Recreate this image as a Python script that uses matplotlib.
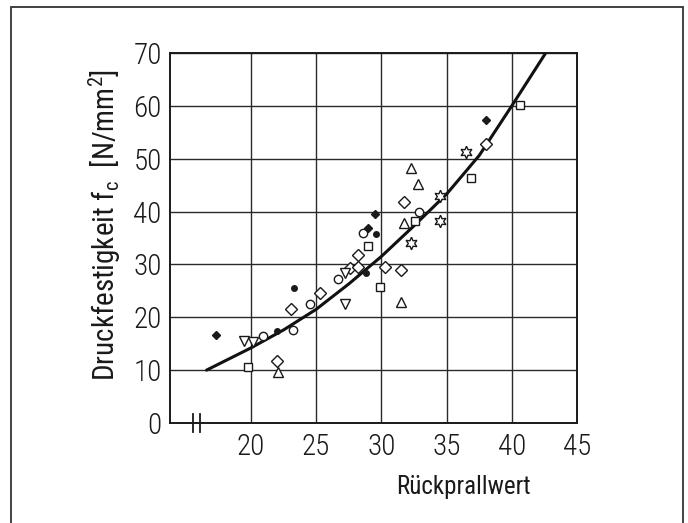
import numpy as np
import matplotlib
matplotlib.use("Agg")
import matplotlib.pyplot as plt
from matplotlib.patches import Rectangle

plt.rcParams['font.family'] = ['Roboto Condensed', 'DejaVu Sans']
plt.rcParams['font.weight'] = 300
plt.rcParams['mathtext.fontset'] = 'custom'
plt.rcParams['mathtext.rm'] = 'Roboto Condensed:light'
plt.rcParams['mathtext.it'] = 'Roboto Condensed:light'

# regression curve
curve_x = [16.6, 20, 22.5, 25, 27.5, 30, 32.5, 35, 37.5, 40, 42.6]
curve_y = [10.0, 14.2, 17.6, 21.5, 26.3, 31.5, 37.3, 43.3, 50.6, 60.0, 70.0]

# measurement series (Rückprallwert, Druckfestigkeit)
filled_diamond_x = [17.3, 29.0, 29.5, 38.0]
filled_diamond_y = [16.6, 36.8, 39.5, 57.3]
filled_circle_x = [22.0, 23.3, 28.8, 29.6]
filled_circle_y = [17.4, 25.6, 28.3, 35.7]
circle_x = [20.9, 23.2, 24.5, 26.7, 28.6, 32.9]
circle_y = [16.5, 17.6, 22.5, 27.2, 35.9, 40.0]
diamond_x = [22.0, 23.1, 25.3, 27.6, 28.2, 28.2, 30.3, 31.5, 31.7, 38.0]
diamond_y = [11.7, 21.6, 24.5, 29.3, 31.8, 29.6, 29.6, 28.9, 41.9, 52.7]
square_x = [19.8, 29.0, 29.9, 32.6, 36.9, 40.6]
square_y = [10.5, 33.5, 25.8, 38.3, 46.4, 60.2]
tri_up_x = [22.1, 31.5, 31.7, 32.3, 32.8]
tri_up_y = [9.6, 22.9, 37.9, 48.2, 45.2]
tri_down_x = [19.5, 20.2, 27.2, 27.2]
tri_down_y = [15.5, 15.4, 22.5, 28.4]
star_x = [32.3, 34.5, 34.5, 36.5]
star_y = [34.0, 38.3, 42.9, 51.3]

x_ticks = [20, 25, 30, 35, 40, 45]
y_ticks = [0, 10, 20, 30, 40, 50, 60, 70]

fig = plt.figure(figsize=(6.88, 5.23), dpi=100)
ax = fig.add_axes([0.2471, 0.1912, 0.5916, 0.7075])

# outer frame
fig.patches.append(Rectangle((11 / 688, -0.01), (683 - 11) / 688, 1 - 7 / 523 + 0.01,
                             transform=fig.transFigure, fill=False,
                             edgecolor='#333333', linewidth=1.3))

ax.set_xlim(13.8, 45)
ax.set_ylim(0, 70)
ax.set_xticks(x_ticks)
ax.set_yticks(y_ticks)
ax.tick_params(length=0, labelsize=21, colors='#1a1a1a')
ax.tick_params(axis='x', pad=7)
ax.tick_params(axis='y', pad=6)
ax.grid(True, color='#2a2a2a', linewidth=1.0)
for s in ax.spines.values():
    s.set_color('#1a1a1a')
    s.set_linewidth(1.4)

ax.plot(curve_x, curve_y, color='#111111', linewidth=2.2, solid_capstyle='round', zorder=3)

ec = '#1a1a1a'
kw = dict(linestyle='none', markeredgecolor=ec, markeredgewidth=1.0, zorder=4)
ax.plot(circle_x, circle_y, 'o', markersize=6, markerfacecolor='white', **kw)
ax.plot(diamond_x, diamond_y, 'D', markersize=6.5, markerfacecolor='white', **kw)
ax.plot(square_x, square_y, 's', markersize=6, markerfacecolor='white', **kw)
ax.plot(tri_up_x, tri_up_y, '^', markersize=7, markerfacecolor='white', **kw)
ax.plot(tri_down_x, tri_down_y, 'v', markersize=7, markerfacecolor='white', **kw)
ax.plot(star_x, star_y, marker=(6, 1, 0), markersize=9, markerfacecolor='white', **kw)
ax.plot(filled_diamond_x, filled_diamond_y, 'D', markersize=4.5, markerfacecolor=ec, **kw)
ax.plot(filled_circle_x, filled_circle_y, 'o', markersize=4, markerfacecolor=ec, **kw)

# axis break marks
for xb in (0.0565, 0.0737):
    ax.plot([xb, xb], [-0.024, 0.024], transform=ax.transAxes, color='#1a1a1a',
            linewidth=1.3, clip_on=False)

ax.set_xlabel('Rückprallwert', fontsize=18, color='#1a1a1a')
ax.xaxis.set_label_coords(0.72, -0.14)
ax.set_ylabel('Druckfestigkeit f$_\\mathregular{c}$  [N/mm$^\\mathregular{2}$]',
              fontsize=21, color='#1a1a1a')
ax.yaxis.set_label_coords(-0.115, 0.535)

fig.savefig('out.png', dpi=100)
